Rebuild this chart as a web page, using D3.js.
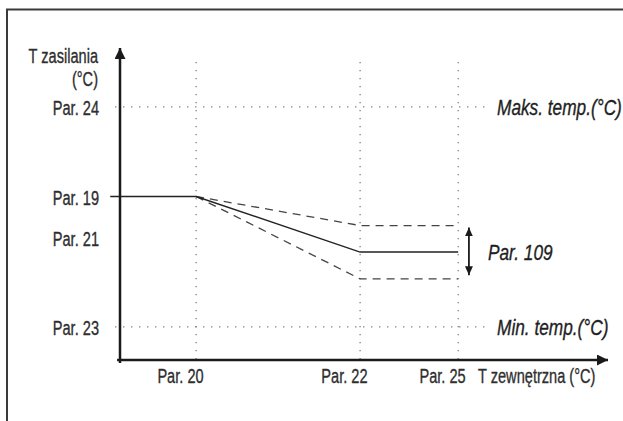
<!DOCTYPE html>
<html>
<head>
<meta charset="utf-8">
<script src="https://cdn.jsdelivr.net/npm/d3@7"></script>
<style>
  html, body { margin: 0; padding: 0; background: #fff; }
  svg { display: block; }
  text { font-family: "Liberation Sans", Arial, sans-serif; fill: #2e2e2e; stroke: #2e2e2e; stroke-width: 0.35px; }
  .it { font-style: italic; fill: #1f1f1f; stroke: #1f1f1f; }
</style>
</head>
<body>
<svg id="chart" width="623" height="421"></svg>
<script>
// Outdoor temperature parameters (abstract chart units along the x axis)
const xParams = ["Par. 20", "Par. 22", "Par. 25"];
const xValues = [15.6, 49.2, 69.3];

// Supply temperature parameters (abstract chart units along the y axis)
const yParams = ["Par. 24", "Par. 19", "Par. 21", "Par. 23"];
const yValues = [81.1, 52.4, 39.1, 10.6];

// Heating curve: nominal and the band shifted by Par. 109
const curveX = [-2, 15.6, 49.2, 69.3];
const curveNominal = [52.4, 52.4, 34.6, 34.6];
const curveUpperX = [15.6, 49.2, 69.3];
const curveUpper = [52.4, 43.1, 43.1];
const curveLowerX = [15.6, 49.2, 69.3];
const curveLower = [52.4, 26.0, 26.0];

// Limit lines
const limitLabels = ["Maks. temp.(°C)", "Min. temp.(°C)"];
const limitValues = [81.1, 10.6];

const bandLabel = "Par. 109";
const bandX = 71.5;
const bandRange = [42.5, 27.2];

// condensed look: regular labels and italic notes are squeezed horizontally
const REG = { size: 21, sx: 0.695 };
const ITA = { size: 22, sx: 0.785 };

const svg = d3.select("#chart");
const x = d3.scaleLinear().domain([0, 100]).range([120, 608]);
const y = d3.scaleLinear().domain([0, 100]).range([360, 48]);

function label(px, py, str, opt, anchor, cls, dy) {
  const t = svg.append("text")
    .attr("transform", `translate(${px},${py}) scale(${opt.sx},1)`)
    .attr("text-anchor", anchor || "start")
    .style("font-size", opt.size + "px")
    .text(str);
  if (cls) t.attr("class", cls);
  if (dy) t.attr("dy", dy);
  return t;
}

// outer frame (top and left edges)
svg.append("path")
  .attr("d", "M7,421V9.5H623")
  .attr("fill", "none").attr("stroke", "#3a3a3a").attr("stroke-width", 2);

const defs = svg.append("defs");
function arrowMarker(id, w, h) {
  defs.append("marker")
    .attr("id", id)
    .attr("viewBox", `0 0 ${w} ${h}`)
    .attr("refX", w).attr("refY", h / 2)
    .attr("markerWidth", w).attr("markerHeight", h)
    .attr("markerUnits", "userSpaceOnUse")
    .attr("orient", "auto-start-reverse")
    .append("path")
    .attr("d", `M0,0L${w},${h / 2}L0,${h}Z`)
    .attr("fill", "#1a1a1a");
}
arrowMarker("axisArrow", 11, 11);
arrowMarker("bandArrow", 9, 8);

// dotted guides
const dotted = svg.append("g")
  .attr("stroke", "#777").attr("stroke-width", 1.2)
  .attr("stroke-dasharray", "1.3,6.7");
xValues.forEach(v => {
  dotted.append("line")
    .attr("x1", x(v)).attr("x2", x(v))
    .attr("y1", y(95.5)).attr("y2", y(0));
});
limitValues.forEach(v => {
  dotted.append("line")
    .attr("x1", x(-1)).attr("x2", x(75.8))
    .attr("y1", y(v)).attr("y2", y(v));
});

// curves
const line = d3.line().x(d => x(d[0])).y(d => y(d[1]));
svg.append("path")
  .datum(d3.zip(curveUpperX, curveUpper))
  .attr("d", line).attr("fill", "none")
  .attr("stroke", "#444").attr("stroke-width", 1.3)
  .attr("stroke-dasharray", "8,6");
svg.append("path")
  .datum(d3.zip(curveLowerX, curveLower))
  .attr("d", line).attr("fill", "none")
  .attr("stroke", "#444").attr("stroke-width", 1.3)
  .attr("stroke-dasharray", "8,6");
svg.append("path")
  .datum(d3.zip(curveX, curveNominal))
  .attr("d", line).attr("fill", "none")
  .attr("stroke", "#222").attr("stroke-width", 1.4);

// axes
const xAxis = d3.axisBottom(x)
  .tickValues(xValues)
  .tickFormat((d, i) => xParams[i])
  .tickSize(0).tickPadding(0);
const gx = svg.append("g").attr("transform", `translate(0,${y(0)})`).call(xAxis);
gx.select(".domain").remove();
gx.selectAll("text")
  .attr("text-anchor", "end").attr("y", 23).attr("dy", null)
  .attr("transform", `translate(7,0) scale(${REG.sx},1)`)
  .style("font-size", REG.size + "px").attr("fill", null);

const yAxis = d3.axisLeft(y)
  .tickValues(yValues)
  .tickFormat((d, i) => yParams[i])
  .tickSize(0).tickPadding(0);
const gy = svg.append("g").attr("transform", `translate(${x(0)},0)`).call(yAxis);
gy.select(".domain").remove();
gy.selectAll("text")
  .attr("x", 0).attr("dy", "0.36em")
  .attr("transform", `translate(-21,0) scale(${REG.sx},1)`)
  .style("font-size", REG.size + "px").attr("fill", null);

svg.append("line")
  .attr("x1", x(-0.6)).attr("x2", x(100))
  .attr("y1", y(0)).attr("y2", y(0))
  .attr("stroke", "#1a1a1a").attr("stroke-width", 2.5)
  .attr("marker-end", "url(#axisArrow)");
svg.append("line")
  .attr("x1", x(0)).attr("x2", x(0))
  .attr("y1", y(-1)).attr("y2", y(100))
  .attr("stroke", "#1a1a1a").attr("stroke-width", 2.5)
  .attr("marker-end", "url(#axisArrow)");

// axis titles
label(98, 63, "T zasilania", REG, "end");
label(98, 86, "(°C)", REG, "end");
label(478, y(0) + 23, "T zewnętrzna (°C)", REG, "start");

// limit labels
limitValues.forEach((v, i) => {
  label(497, y(v), limitLabels[i], ITA, "start", "it", "0.36em");
});

// Par. 109 band
svg.append("line")
  .attr("x1", x(bandX)).attr("x2", x(bandX))
  .attr("y1", y(bandRange[0])).attr("y2", y(bandRange[1]))
  .attr("stroke", "#1a1a1a").attr("stroke-width", 1.8)
  .attr("marker-start", "url(#bandArrow)")
  .attr("marker-end", "url(#bandArrow)");
label(488, y(34.6), bandLabel, ITA, "start", "it", "0.36em");
</script>
</body>
</html>
